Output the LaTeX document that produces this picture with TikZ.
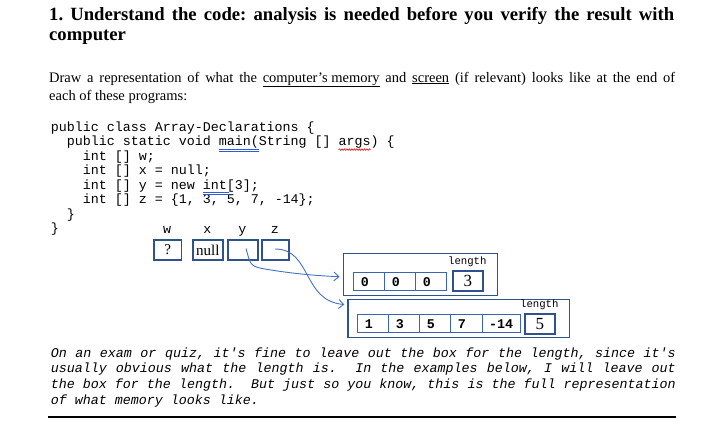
\documentclass[tikz,border=0pt]{standalone}
\usepackage{fontspec}
\setmainfont{Liberation Serif}
\setmonofont{Liberation Mono}
\usetikzlibrary{arrows.meta,decorations.pathmorphing}
\definecolor{boxblue}{RGB}{47,82,143}
\definecolor{cellblue}{RGB}{60,100,175}
\definecolor{arrowblue}{RGB}{68,114,196}
\definecolor{gramblue}{RGB}{50,90,210}
\definecolor{spellred}{RGB}{220,20,20}
\frenchspacing
\begin{document}
\begin{tikzpicture}[x=1pt,y=-1pt,
  boxline/.style={draw=boxblue, line width=1.2pt},
  varbox/.style={boxline, anchor=north west, inner sep=0pt, minimum height=20pt, font=\fontsize{15}{16}\selectfont},
  cellbox/.style={draw=cellblue, line width=1pt, anchor=north west, inner xsep=7pt, inner ysep=0pt, minimum height=18pt, align=left, font=\ttfamily\bfseries\fontsize{13.33}{14}\selectfont},
  lenbox/.style={boxline, anchor=north west, inner sep=0pt, minimum width=30pt, minimum height=20pt, font=\fontsize{17}{18}\selectfont},
  outerbox/.style={boxline, anchor=north west, inner sep=0pt},
  varlabel/.style={anchor=base, inner sep=0pt, font=\ttfamily\fontsize{13.33}{14}\selectfont},
  lenlabel/.style={anchor=base, inner sep=0pt, font=\ttfamily\fontsize{10.67}{12}\selectfont},
  ptr/.style={draw=arrowblue, line width=0.9pt, -{Straight Barb[length=5pt,width=9pt]}},
  para/.style={anchor=base west, inner sep=0pt, align=justify}
]
\useasboundingbox[fill=white] (0,0) rectangle (711,426);

% title
\node[para, text width=625pt, font=\bfseries\fontsize{18.67}{20.7}\selectfont] (title) at (49,20)
  {1. Understand the code: analysis is needed before you verify the result with\linebreak computer};

% intro paragraph
\node[para, text width=626pt, font=\fontsize{14.5}{18}\selectfont] (intro) at (49,82)
  {Draw a representation of what the \underline{computer's memory} and \underline{screen} (if relevant) looks like at the end of\linebreak each of these programs:};

% code
\node[anchor=base west, inner sep=0pt, text width=400pt, align=left, font=\ttfamily\fontsize{13.33}{14.5}\selectfont] (code) at (50.6,131.3)
  {\spaceskip=0pt\xspaceskip=0pt\relax
   public class Array-Declarations \{\\
   \hspace*{16pt}public static void main(String [] args) \{\\
   \hspace*{32pt}int [] w;\\
   \hspace*{32pt}int [] x = null;\\
   \hspace*{32pt}int [] y = new int[3];\\
   \hspace*{32pt}int [] z = \{1, 3, 5, 7, -14\};\\
   \hspace*{16pt}\}\\
   \}};

% editor marks
\draw[gramblue, line width=0.6pt] (218.6,149.2) -- (258.6,149.2);
\draw[gramblue, line width=0.6pt] (218.6,151.2) -- (258.6,151.2);
\draw[gramblue, line width=0.6pt] (202.6,192.6) -- (228.6,192.6);
\draw[gramblue, line width=0.6pt] (202.6,194.6) -- (228.6,194.6);
\draw[spellred, line width=0.6pt, decorate, decoration={snake, amplitude=0.8pt, segment length=2.5pt}] (338.6,149.6) -- (370.6,149.6);

% variable labels
\node[varlabel] (lw) at (167,233.5) {w};
\node[varlabel] (lx) at (207.3,233.5) {x};
\node[varlabel] (ly) at (242.3,233.5) {y};
\node[varlabel] (lz) at (274.8,233.5) {z};

% variable boxes
\node[varbox, minimum width=27.4pt] (w) at (153.3,239.3) {?};
\node[varbox, minimum width=30pt] (x) at (192.3,239.3) {null};
\node[varbox, minimum width=30pt] (y) at (227.3,239.3) {};
\node[varbox, minimum width=27pt] (z) at (261.3,239.3) {};

% array 1
\node[outerbox, minimum width=154pt, minimum height=42pt] (arr1) at (342.5,252.5) {};
\node[cellbox, text width=17pt] (a1) at (353.3,272.4) {0};
\node[cellbox, text width=17pt] (a2) at (384.3,272.4) {0};
\node[cellbox, text width=17pt] (a3) at (415.3,272.4) {0};
\node[lenbox] (len1) at (452.3,270.3) {3};
\node[lenlabel] (ll1) at (467.3,264.3) {length};

% array 2
\node[outerbox, minimum width=221.5pt, minimum height=38pt] (arr2) at (347.3,298.5) {};
\node[cellbox, text width=17pt] (b1) at (357.4,314.2) {1};
\node[cellbox, text width=17pt] (b2) at (388.4,314.2) {3};
\node[cellbox, text width=17pt] (b3) at (419.4,314.2) {5};
\node[cellbox, text width=17.3pt] (b4) at (450.4,314.2) {7};
\node[cellbox, text width=24.3pt] (b5) at (481.7,314.2) {-14};
\node[lenbox] (len2) at (524.3,313.3) {5};
\node[lenlabel] (ll2) at (539.3,307.6) {length};

% pointers
\coordinate (ys) at (246,248.5);
\coordinate (zs) at (275,249);
\draw[ptr] (ys) .. controls (250,262) and (249,266) .. (262,268.5)
  .. controls (285,272.5) and (310,275.5) .. ([shift={(-3,2.6)}]arr1.west);
\draw[ptr] (zs) .. controls (312,249) and (302,301) .. ([shift={(-3,6)}]arr2.north west);

% note
\node[para, text width=625pt, font=\ttfamily\itshape\fontsize{13.33}{15.6}\selectfont] (note) at (50.6,357.3)
  {\spaceskip=8pt plus 6pt\relax
   On an exam or quiz, it's fine to leave out the box for the length, since it's\linebreak
   usually obvious what the length is.\ \ In the examples below, I will leave out\linebreak
   the box for the length.\ \ But just so you know, this is the full representation\linebreak
   of what memory looks like.};
\coordinate (rl) at (48,417);
\coordinate (rr) at (676,417);
\draw[line width=2pt] (rl) -- (rr);
\end{tikzpicture}
\end{document}
